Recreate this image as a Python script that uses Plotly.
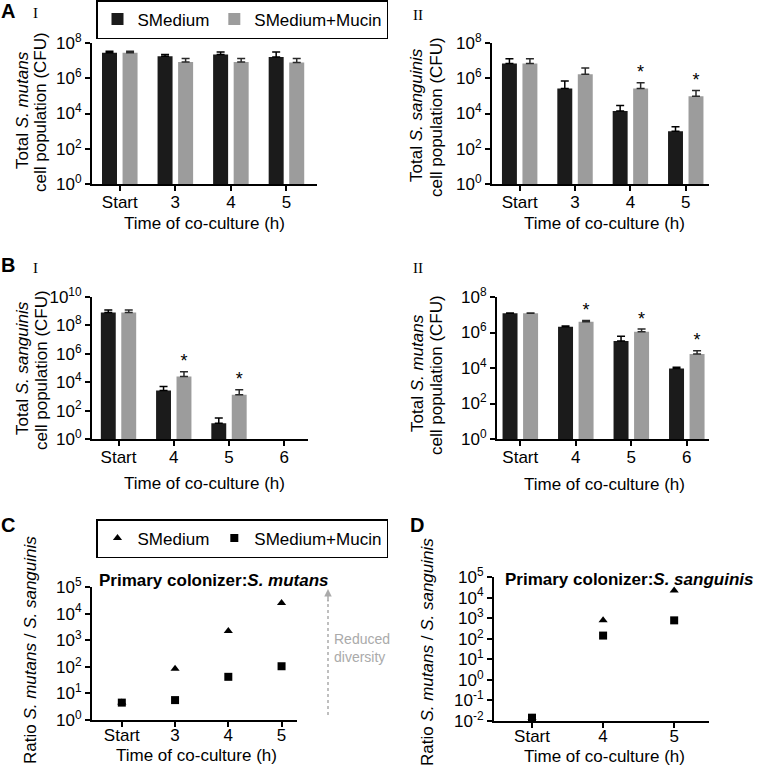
import plotly.graph_objects as go

W, H = 768, 774

# ---- data ----
labels_a1 = ["Start", "3", "4", "5"]
a1_black = [2.8e7, 1.8e7, 2.2e7, 1.6e7]
a1_black_err = [6e6, 4e6, 9e6, 1.5e7]
a1_gray = [2.8e7, 8.4e6, 8.4e6, 7.8e6]
a1_gray_err = [6e6, 4.6e6, 4.6e6, 5.2e6]
a1_stars = []

labels_a2 = ["Start", "3", "4", "5"]
a2_black = [6.8e6, 2.6e5, 1.4e4, 1.0e3]
a2_black_err = [6e6, 4.4e5, 1.4e4, 8e2]
a2_gray = [6.8e6, 1.7e6, 2.6e5, 9.5e4]
a2_gray_err = [6e6, 2.1e6, 2.9e5, 1.1e5]
a2_stars = [2, 3]

labels_b1 = ["Start", "4", "5", "6"]
b1_black = [8e8, 2.6e3, 13, None]
b1_black_err = [4e8, 2.3e3, 17, 0]
b1_gray = [8e8, 2.5e4, 1.3e3, None]
b1_gray_err = [4e8, 3e4, 1.6e3, 0]
b1_stars = [1, 2]

labels_b2 = ["Start", "4", "5", "6"]
b2_black = [1.2e7, 2.1e6, 3.3e5, 9.5e3]
b2_black_err = [5e5, 2e5, 2.9e5, 1.5e3]
b2_gray = [1.2e7, 4e6, 1.1e6, 6.2e4]
b2_gray_err = [5e5, 7e5, 4.5e5, 3.1e4]
b2_stars = [1, 2, 3]

labels_c = ["Start", "3", "4", "5"]
c_smedium = [4.5, 85, 2.2e3, 2.5e4]
c_mucin = [4.5, 5.6, 42, 105]

labels_d = ["Start", "4", "5"]
d_smedium = [0.0145, 780, 2.2e4]
d_mucin = [0.0145, 142, 780]

BLACK = "#1b1b1b"
GRAY = "#9c9c9c"
FONT = "Liberation Sans, Arial, sans-serif"


def px(x):
    return x / W


def py(y):
    return 1 - y / H


fig = go.Figure()
layout_axes = {}


def axis_names(n):
    return ("x" if n == 1 else f"x{n}"), ("y" if n == 1 else f"y{n}")


def base_axes(n, labels, xdom, ydom, xrange_, yrange, tickexp, standoff=0):
    xa, ya = axis_names(n)
    key = "" if n == 1 else str(n)
    common = dict(
        showline=True, linewidth=2, linecolor="black", ticks="outside",
        ticklen=5, tickwidth=2, tickcolor="black", showgrid=False,
        zeroline=False, automargin=False, tickfont=dict(size=17, color="black"),
    )
    layout_axes["xaxis" + key] = dict(
        domain=[px(xdom[0]), px(xdom[1])], anchor=ya, range=xrange_,
        tickvals=list(range(len(labels))), ticktext=labels,
        ticklabelstandoff=standoff, **common,
    )
    layout_axes["yaxis" + key] = dict(
        domain=[py(ydom[1]), py(ydom[0])], anchor=xa, type="log", range=yrange,
        tickvals=[10.0 ** k for k in tickexp],
        ticktext=[f"10<sup>{k}</sup>" for k in tickexp], **common,
    )
    return xa, ya


def bar_panel(n, labels, black, black_err, gray, gray_err, stars,
              xdom, ydom, xrange_, ymax, show_legend=False):
    xa, ya = base_axes(n, labels, xdom, ydom, xrange_, [0, ymax],
                       list(range(0, ymax + 1, 2)), standoff=-3)
    idx = list(range(len(labels)))
    fig.add_trace(go.Bar(
        x=idx, y=black, offset=-0.32, width=0.27, name="SMedium",
        marker=dict(color=BLACK, line=dict(width=0)),
        error_y=dict(type="data", symmetric=False, array=black_err,
                     arrayminus=[0] * len(idx), color="black", thickness=1.5, width=4),
        showlegend=show_legend, legend="legend", xaxis=xa, yaxis=ya,
    ))
    fig.add_trace(go.Bar(
        x=idx, y=gray, offset=0.05, width=0.27, name="SMedium+Mucin",
        marker=dict(color=GRAY, line=dict(width=0)),
        error_y=dict(type="data", symmetric=False, array=gray_err,
                     arrayminus=[0] * len(idx), color="#2a2a2a", thickness=1.5, width=4),
        showlegend=show_legend, legend="legend", xaxis=xa, yaxis=ya,
    ))
    if stars:
        fig.add_trace(go.Scatter(
            x=[i + 0.185 for i in stars], y=[gray[i] + gray_err[i] for i in stars],
            mode="text", text=["*"] * len(stars), textposition="top center",
            textfont=dict(size=18, color="black"), showlegend=False,
            hoverinfo="skip", xaxis=xa, yaxis=ya, cliponaxis=False,
        ))


def ratio_panel(n, labels, tri, sq, xdom, ydom, xrange_, yrange, show_legend=False):
    tickexp = list(range(yrange[0], yrange[1] + 1))
    xa, ya = base_axes(n, labels, xdom, ydom, xrange_, yrange, tickexp, standoff=-6)
    idx = list(range(len(labels)))
    fig.add_trace(go.Scatter(
        x=idx, y=tri, mode="markers", name="SMedium",
        marker=dict(symbol="triangle-up", size=8, color="black"),
        showlegend=show_legend, legend="legend2", xaxis=xa, yaxis=ya,
    ))
    fig.add_trace(go.Scatter(
        x=idx, y=sq, mode="markers", name="SMedium+Mucin",
        marker=dict(symbol="square", size=8, color="black"),
        showlegend=show_legend, legend="legend2", xaxis=xa, yaxis=ya,
    ))


bar_panel(1, labels_a1, a1_black, a1_black_err, a1_gray, a1_gray_err, a1_stars,
          (92, 317), (43, 184), [-0.5, 3.55], 8, show_legend=True)
bar_panel(2, labels_a2, a2_black, a2_black_err, a2_gray, a2_gray_err, a2_stars,
          (492, 709), (43, 184), [-0.5, 3.42], 8)
bar_panel(3, labels_b1, b1_black, b1_black_err, b1_gray, b1_gray_err, b1_stars,
          (92, 308), (297, 439), [-0.48, 3.43], 10)
bar_panel(4, labels_b2, b2_black, b2_black_err, b2_gray, b2_gray_err, b2_stars,
          (497, 709), (297, 439), [-0.42, 3.4], 8)
ratio_panel(5, labels_c, c_smedium, c_mucin, (92, 297), (587, 720),
            [-0.56, 3.29], [0, 5], show_legend=True)
ratio_panel(6, labels_d, d_smedium, d_mucin, (494, 709), (577, 721),
            [-0.535, 2.49], [-2, 5])

annotations = []


def note(text, x, y, size=17, angle=0, **kw):
    color = kw.pop("color", "black")
    family = kw.pop("family", FONT)
    kw.setdefault("xanchor", "center")
    kw.setdefault("yanchor", "middle")
    annotations.append(dict(
        text=text, x=px(x), y=py(y), xref="paper", yref="paper", showarrow=False,
        textangle=angle, font=dict(size=size, color=color, family=family), **kw,
    ))


# panel letters and roman numerals
for letter, lx, ly in [("A", 8, 11), ("B", 8, 265), ("C", 8, 525), ("D", 417, 525)]:
    note(f"<b>{letter}</b>", lx, ly, size=20)
for numeral, nx, ny in [("I", 35, 13), ("II", 418, 15), ("I", 35, 268), ("II", 418, 268)]:
    note(numeral, nx, ny, size=15, family="Liberation Serif, serif")

# y-axis titles
for sp, cx, cy in [("mutans", 22, 110), ("sanguinis", 417, 115),
                   ("sanguinis", 22, 368), ("mutans", 417, 373)]:
    note(f"Total <i>S. {sp}</i>", cx, cy, angle=-90)
    note("cell population (CFU)", cx + 19, cy + 2, angle=-90)
note("Ratio <i>S. mutans</i> / <i>S. sanguinis</i>", 30, 650, angle=-90)
note("Ratio <i>S. mutans</i> / <i>S. sanguinis</i>", 427, 652, angle=-90)

# x-axis titles
for cx, cy in [(204, 223), (604, 223), (204, 483), (604, 484), (196, 755), (604, 756)]:
    note("Time of co-culture (h)", cx, cy)

# panel titles for C and D
note("<b>Primary colonizer:<i>S. mutans</i></b>", 97, 580, xanchor="left")
note("<b>Primary colonizer:<i>S. sanguinis</i></b>", 503, 579, xanchor="left")

# reduced diversity arrow
note("Reduced<br>diversity", 332, 648, size=14, color="#aaaaaa",
     xanchor="left", align="left")
annotations.append(dict(
    x=px(328), y=py(589), xref="paper", yref="paper", text="", showarrow=True,
    ax=0, ay=14, arrowhead=2, arrowsize=1, arrowwidth=1.5, arrowcolor="#aaaaaa",
))

fig.update_layout(
    template="none",
    width=W, height=H, margin=dict(l=0, r=0, t=0, b=0, autoexpand=False),
    paper_bgcolor="white", plot_bgcolor="white",
    font=dict(family=FONT, size=17, color="black"),
    barmode="overlay",
    annotations=annotations,
    shapes=[dict(type="line", xref="paper", yref="paper", x0=px(328), x1=px(328),
                 y0=py(715), y1=py(600), line=dict(color="#aaaaaa", width=1.5, dash="dot"))],
    legend=dict(
        orientation="h", x=px(96), y=py(0), xanchor="left", yanchor="top",
        bordercolor="black", borderwidth=1.5, font=dict(size=17),
        entrywidth=0, tracegroupgap=0, bgcolor="white",
    ),
    legend2=dict(
        orientation="h", x=px(96), y=py(519), xanchor="left", yanchor="top",
        bordercolor="black", borderwidth=1.5, font=dict(size=17),
        entrywidth=0, bgcolor="white",
    ),
    **layout_axes,
)

# the page's default 8px body margin would shift the whole figure
fig.write_html("out.html", config={"displayModeBar": False},
               post_script="document.body.style.margin = '0px';")
